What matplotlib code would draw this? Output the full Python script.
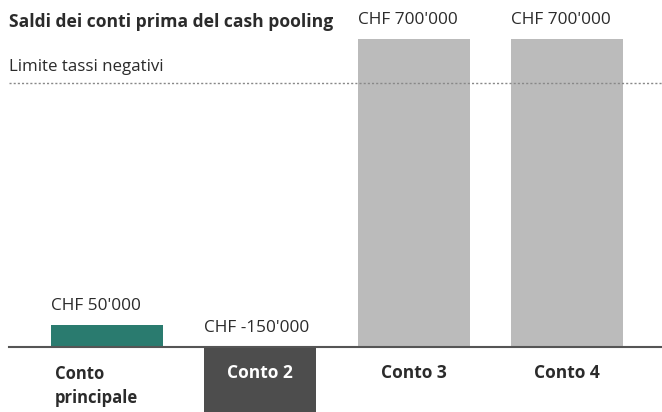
import matplotlib
matplotlib.use("Agg")
import matplotlib.pyplot as plt

categories = ["Conto\nprincipale", "Conto 2", "Conto 3", "Conto 4"]
values = [50000, -150000, 700000, 700000]
value_labels = ["CHF 50'000", "CHF -150'000", "CHF 700'000", "CHF 700'000"]
limit_value = 600000
title = "Saldi dei conti prima del cash pooling"
limit_label = "Limite tassi negativi"

colors = ["#2a7b6f", "#4d4d4d", "#bbbbbb", "#bbbbbb"]
text_color = "#2b2b2b"

plt.rcParams['font.family'] = ['Open Sans', 'DejaVu Sans']

W, H = 662, 412
fig = plt.figure(figsize=(W / 100, H / 100), dpi=100)
ax = fig.add_axes([0, 0, 1, 1])
ax.set_axis_off()

# pixel mapping
px_per_cat = 153.3
x0_px = 107
px_per_val = 307.7 / 700000
axis_px = 347
ax.set_xlim((0 - x0_px) / px_per_cat, (W - x0_px) / px_per_cat)
ax.set_ylim(-(H - axis_px) / px_per_val, axis_px / px_per_val)

xs = list(range(len(categories)))
bw = 112 / px_per_cat
ax.bar(xs, values, width=bw, color=colors, zorder=2)

# baseline
ax.axhline(0, xmin=9 / W, xmax=1, color="#555555", lw=1.5, zorder=3)
# limit line
ax.axhline(limit_value, xmin=9 / W, xmax=1, color="#888888", lw=1.0,
           linestyle=(0, (1.5, 1.5)), zorder=4)

off = 19 / px_per_val
for x, v, lab in zip(xs, values, value_labels):
    ax.text(x - bw / 2, max(v, 0) + off, lab, ha="left", va="center",
            fontsize=12.4, color=text_color)

cat_y = -26 / px_per_val
for i, (x, c) in enumerate(zip(xs, categories)):
    if i == 0:
        ax.text(x - bw / 2 + 4 / px_per_cat, cat_y + 8 / px_per_val, c, ha="left",
                va="top", fontsize=12, fontweight="bold", color=text_color,
                linespacing=1.4)
    else:
        ax.text(x, cat_y, c, ha="center", va="center", fontsize=12.5,
                fontweight="bold", color="white" if values[i] < 0 else text_color)

xl = ax.get_xlim()[0] + 9 / px_per_cat
ax.text(xl, (axis_px - 22) / px_per_val, title, ha="left", va="center",
        fontsize=12.6, fontweight="bold", color=text_color)
ax.text(xl, (axis_px - 67) / px_per_val, limit_label, ha="left", va="center",
        fontsize=12.2, color=text_color)

fig.savefig("out.png", dpi=100)
